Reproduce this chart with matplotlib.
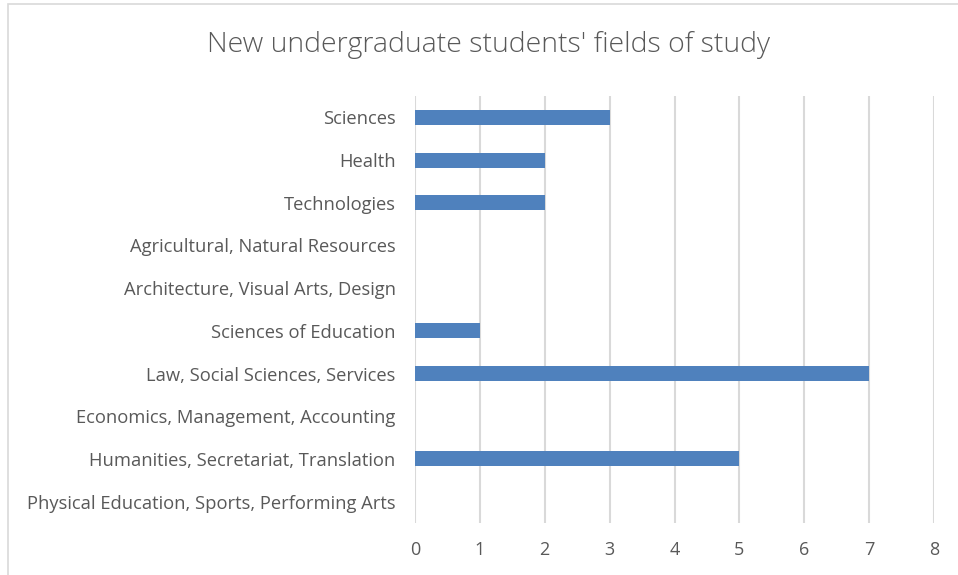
import matplotlib
matplotlib.use("Agg")
import matplotlib.pyplot as plt
from matplotlib.patches import Rectangle

categories = [
    "Physical Education, Sports, Performing Arts",
    "Humanities, Secretariat, Translation",
    "Economics, Management, Accounting",
    "Law, Social Sciences, Services",
    "Sciences of Education",
    "Architecture, Visual Arts, Design",
    "Agricultural, Natural Resources",
    "Technologies",
    "Health",
    "Sciences",
]
values = [0, 5, 0, 7, 1, 0, 0, 2, 2, 3]
xticks = [0, 1, 2, 3, 4, 5, 6, 7, 8]
title = "New undergraduate students' fields of study"

plt.rcParams['font.family'] = ['Open Sans', 'DejaVu Sans']
text_color = "#595959"

fig = plt.figure(figsize=(9.58, 5.75), dpi=100)
fig.patches.append(Rectangle((8/958, -0.01), 1.0, 1 - 4/575 + 0.01, transform=fig.transFigure,
                             fill=False, edgecolor="#D9D9D9", linewidth=1.2))
ax = fig.add_axes([415/958, 1 - 523/575, (934 - 415)/958, (523 - 96)/575])

y = list(range(len(categories)))
ax.barh(y, values, height=0.35, color="#4F81BD", zorder=3)
ax.set_ylim(-0.5, len(categories) - 0.5)
ax.set_xlim(0, 8)
ax.set_xticks(xticks)
ax.set_xticklabels([str(t) for t in xticks], fontsize=13, color=text_color)
ax.tick_params(axis='both', length=0)
ax.set_yticks(y)
ax.set_yticklabels(categories, fontsize=13.2, color=text_color)
ax.tick_params(axis='x', pad=13)
ax.tick_params(axis='y', pad=14)
ax.grid(axis='x', color="#D9D9D9", linewidth=1.5, zorder=0)
for s in ax.spines.values():
    s.set_visible(False)
fig.text(489/958, 1 - 45/575, title, ha='center', va='center', fontsize=20.5,
         color=text_color, fontweight='light')
fig.savefig("out.png", dpi=100)
